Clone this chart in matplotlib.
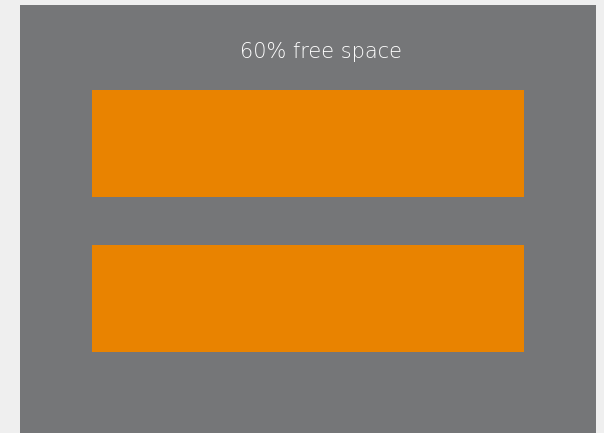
import matplotlib.pyplot as plt

categories = ["Bar 1", "Bar 2"]
values = [100, 100]
title = "60% free space"

W, H = 604, 433
fig = plt.figure(figsize=(W / 100, H / 100), dpi=100)
fig.patch.set_facecolor("#efefef")

# panel spans x 20..596, y 5..433 (pixels from top)
ax = fig.add_axes([20 / W, 0, 576 / W, 428 / H])
ax.set_facecolor("#757678")

ax.barh(range(len(categories)), values, height=107 / 155, color="#e98300")

px = 432 / 100  # pixels per value unit
ax.set_xlim(-72 / px, 100 + 72 / px)
ax.set_ylim(289.5 / 155, -138.5 / 155)

ax.set_xticks([])
ax.set_yticks([])
for s in ax.spines.values():
    s.set_visible(False)

fig.text(321 / W, 1 - 52.5 / H, title, ha="center", va="center",
         color="white", fontsize=15, family="DejaVu Sans", fontweight=200)

fig.savefig("out.png", dpi=100, facecolor=fig.get_facecolor())
